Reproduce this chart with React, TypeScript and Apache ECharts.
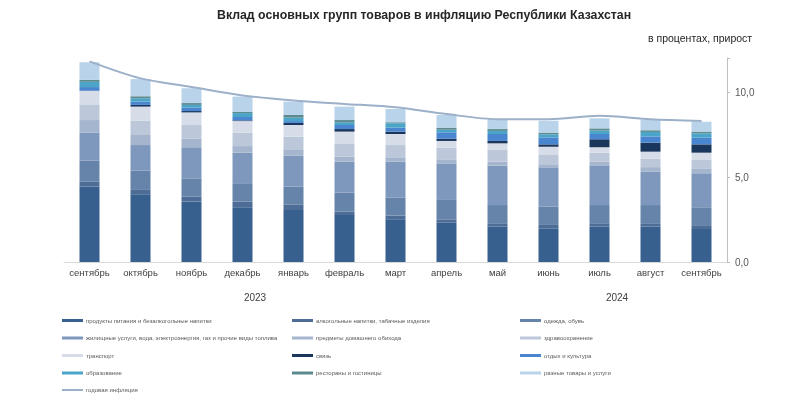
import React, { useEffect, useRef } from "react";
import * as echarts from "echarts";

const months = ["сентябрь", "октябрь", "ноябрь", "декабрь", "январь", "февраль", "март", "апрель", "май", "июнь", "июль", "август", "сентябрь"];
const years = ["2023", "2024"];

const seriesNames = [
  "продукты питания и безалкогольные напитки",
  "алкогольные напитки, табачные изделия",
  "одежда, обувь",
  "жилищные услуги, вода, электроэнергия, газ и прочие виды топлива",
  "предметы домашнего обихода",
  "здравоохранение",
  "транспорт",
  "связь",
  "отдых и культура",
  "образование",
  "рестораны и гостиницы",
  "разные товары и услуги",
];
const lineName = "годовая инфляция";

const food = [4.43, 3.98, 3.55, 3.22, 3.06, 2.76, 2.51, 2.31, 2.08, 1.98, 2.08, 2.08, 1.94];
const alcohol = [0.29, 0.26, 0.29, 0.33, 0.33, 0.2, 0.22, 0.2, 0.16, 0.2, 0.16, 0.16, 0.18];
const clothing = [1.24, 1.13, 1.08, 1.04, 1.04, 1.12, 1.07, 1.14, 1.11, 1.07, 1.11, 1.11, 1.1];
const housing = [1.64, 1.51, 1.83, 1.84, 1.82, 1.82, 2.1, 2.15, 2.32, 2.32, 2.3, 1.96, 2.0];
const household = [0.75, 0.59, 0.52, 0.39, 0.38, 0.3, 0.26, 0.24, 0.23, 0.18, 0.25, 0.27, 0.29];
const health = [0.92, 0.84, 0.79, 0.79, 0.74, 0.74, 0.72, 0.69, 0.69, 0.58, 0.53, 0.5, 0.49];
const transport = [0.79, 0.83, 0.74, 0.68, 0.69, 0.73, 0.65, 0.39, 0.39, 0.45, 0.32, 0.41, 0.43];
const communication = [0.02, 0.1, 0.08, 0.04, 0.12, 0.15, 0.14, 0.13, 0.14, 0.14, 0.47, 0.53, 0.49];
const recreation = [0.21, 0.19, 0.2, 0.2, 0.11, 0.24, 0.23, 0.38, 0.41, 0.41, 0.31, 0.37, 0.39];
const education = [0.31, 0.2, 0.16, 0.23, 0.2, 0.16, 0.26, 0.15, 0.18, 0.18, 0.2, 0.26, 0.26];
const restaurants = [0.12, 0.12, 0.11, 0.08, 0.16, 0.13, 0.06, 0.12, 0.11, 0.1, 0.13, 0.1, 0.1];
const misc = [1.03, 1.01, 0.87, 0.89, 0.78, 0.79, 0.78, 0.75, 0.59, 0.7, 0.59, 0.62, 0.58];
const inflation = [11.8, 10.8, 10.3, 9.8, 9.5, 9.3, 9.1, 8.7, 8.4, 8.4, 8.6, 8.4, 8.3];

const seriesValues = [food, alcohol, clothing, housing, household, health, transport, communication, recreation, education, restaurants, misc];

const colors = [
  "#37608F", "#4E6D96", "#6683AA", "#7E98BD", "#A4B5CD", "#BCC8DA",
  "#D6DDE8", "#1B365D", "#4A86CF", "#4BA5C8", "#5C8A8E", "#B8D3EA",
];
const lineColor = "#9CB0C9";

// legend layout: 3 columns x 5 rows
const legendCols = [62, 292, 520];
const legendRows = [320.5, 338, 355.5, 373, 390];

export default function App() {
  const ref = useRef<HTMLDivElement>(null);
  useEffect(() => {
    if (!ref.current) return;
    const chart = echarts.init(ref.current, null, { renderer: "svg" });
    const font = "Liberation Sans, Arial, sans-serif";
    const allNames = [...seriesNames, lineName];
    const legends = allNames.map((name, i) => {
      const col = i % 3;
      const row = Math.floor(i / 3);
      const isLine = name === lineName;
      return {
        left: legendCols[col],
        top: legendRows[row] - 4,
        padding: 0,
        selectedMode: false,
        itemWidth: 21,
        itemHeight: isLine ? 2 : 3,
        itemGap: 0,
        icon: "rect",
        data: [name],
        textStyle: { fontSize: 6, lineHeight: 8, color: "#595959", fontFamily: font, padding: [0, 0, 0, -2] },
      };
    });

    const barSeries = seriesNames.map((name, i) => ({
      name,
      type: "bar",
      stack: "total",
      barWidth: 20,
      data: seriesValues[i],
      itemStyle: { color: colors[i] },
      emphasis: { disabled: true },
    }));

    chart.setOption({
      animation: false,
      title: {
        text: "Вклад основных групп товаров в инфляцию Республики Казахстан",
        left: 217,
        top: 4,
        padding: 0,
        textStyle: { fontSize: 12.3, fontWeight: "bold", color: "#262626", fontFamily: font, lineHeight: 22 },
      },
      legend: legends,
      grid: { left: 64, right: 73, top: 58, bottom: 150, containLabel: false },
      xAxis: {
        type: "category",
        data: months,
        axisLine: { lineStyle: { color: "#D9D9D9" } },
        axisTick: { show: false },
        axisLabel: { interval: 0, fontSize: 9.5, color: "#404040", fontFamily: font, margin: 5 },
      },
      yAxis: {
        type: "value",
        position: "right",
        min: 0,
        max: 12,
        interval: 5,
        splitLine: { show: false },
        axisLine: { show: true, lineStyle: { color: "#BFBFBF" } },
        axisTick: { show: true, length: 3, lineStyle: { color: "#BFBFBF" } },
        axisLabel: {
          fontSize: 10,
          color: "#595959",
          fontFamily: font,
          margin: 8,
          formatter: (v: number) => (v % 5 === 0 ? v.toFixed(1).replace(".", ",") : ""),
        },
      },
      graphic: [
        {
          type: "text",
          left: 648,
          top: 32,
          style: { text: "в процентах, прирост", fontSize: 10.5, fill: "#262626", font: `10.5px ${font}` },
        },
        {
          type: "text",
          x: 255,
          y: 297,
          style: { text: years[0], fill: "#404040", font: `10px ${font}`, align: "center", verticalAlign: "middle" },
        },
        {
          type: "text",
          x: 617,
          y: 297,
          style: { text: years[1], fill: "#404040", font: `10px ${font}`, align: "center", verticalAlign: "middle" },
        },
      ],
      series: [
        ...barSeries,
        {
          name: lineName,
          type: "line",
          data: inflation,
          smooth: 0.3,
          symbol: "none",
          itemStyle: { color: lineColor },
          lineStyle: { color: lineColor, width: 2 },
          emphasis: { disabled: true },
          z: 5,
        },
      ],
    });
    return () => chart.dispose();
  }, []);
  return <div ref={ref} style={{ width: 800, height: 412, position: "fixed", left: 0, top: 0 }} />;
}
